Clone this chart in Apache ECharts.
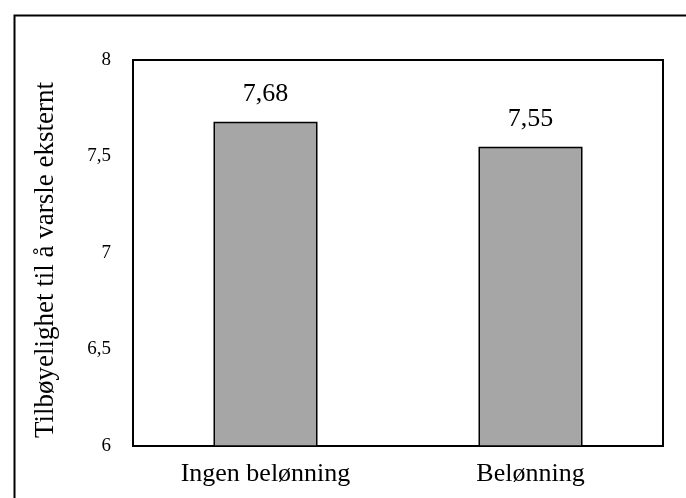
<!DOCTYPE html>
<html><head><meta charset="utf-8">
<script src="https://cdn.jsdelivr.net/npm/echarts@6/dist/echarts.min.js"></script>
<style>html,body{margin:0;padding:0;background:#fff}#c{width:686px;height:498px}</style>
</head><body><div id="c"></div>
<script>
const categories = ["Ingen belønning", "Belønning"];
const values = [7.68, 7.55];
const yTicks = [6, 6.5, 7, 7.5, 8];
const yAxisTitle = "Tilbøyelighet til å varsle eksternt";

const font = "'Liberation Serif', 'Times New Roman', serif";
const chart = echarts.init(document.getElementById('c'));
chart.setOption({
  animation: false,
  backgroundColor: '#fff',
  graphic: [{
    type: 'rect', left: 12, top: 13, z: -1, silent: true,
    shape: {x: 0, y: 0, width: 700, height: 600},
    style: {fill: 'none', stroke: '#000', lineWidth: 2}
  }],
  grid: {left: 133, top: 60, right: 23, bottom: 52, show: true, borderColor: '#000', borderWidth: 2, backgroundColor: 'transparent'},
  xAxis: {
    type: 'category', data: categories,
    axisLine: {show: true, lineStyle: {color: '#000', width: 2}},
    axisTick: {show: false},
    axisLabel: {color: '#000', fontFamily: font, fontSize: 26, margin: 15}
  },
  yAxis: {
    type: 'value', min: yTicks[0], max: yTicks[yTicks.length - 1], interval: 0.5,
    name: yAxisTitle, nameLocation: 'middle', nameGap: 74, nameRotate: 90,
    nameTextStyle: {color: '#000', fontFamily: font, fontSize: 27, padding: [0, 14, 0, 0]},
    axisLine: {show: true, lineStyle: {color: '#000', width: 2}},
    axisTick: {show: false},
    splitLine: {show: false},
    axisLabel: {color: '#000', fontFamily: font, fontSize: 19, margin: 22,
      formatter: v => String(v).replace('.', ',')}
  },
  series: [{
    type: 'bar', data: values, barWidth: 104,
    itemStyle: {color: '#a6a6a6', borderColor: '#000', borderWidth: 1.5},
    label: {show: true, position: 'top', distance: 15, color: '#000', fontFamily: font, fontSize: 26,
      formatter: p => p.value.toFixed(2).replace('.', ',')}
  }]
});
</script></body></html>
